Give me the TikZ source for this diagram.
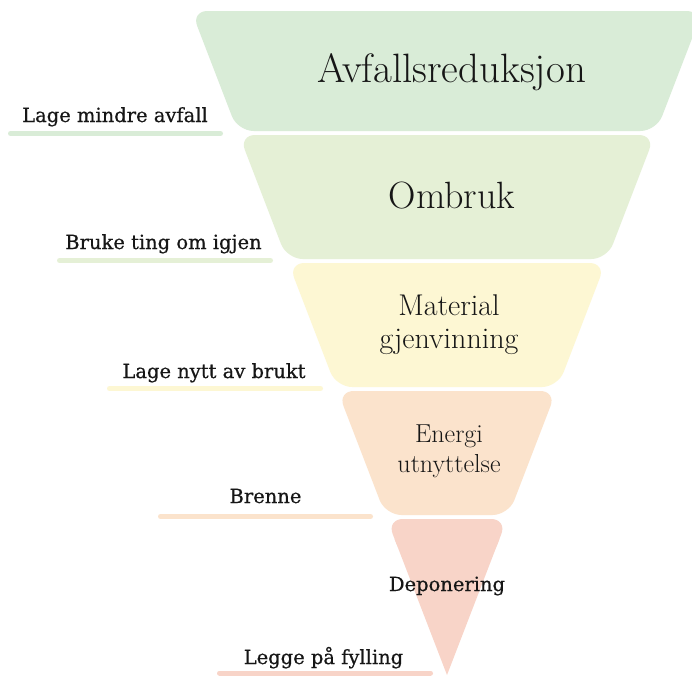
\documentclass[tikz,border=0pt]{standalone}
\usepackage{fontspec}
\newfontfamily\lblfont[FakeBold=0.6]{DejaVu Serif}
\definecolor{bandA}{HTML}{D9ECD7}
\definecolor{bandB}{HTML}{E5F0D6}
\definecolor{bandC}{HTML}{FDF7D3}
\definecolor{bandD}{HTML}{FBE3CC}
\definecolor{bandE}{HTML}{F8D4C8}
\definecolor{ink}{HTML}{161616}
\begin{document}
\begin{tikzpicture}[x=1pt,y=-1pt,
  band/.style={rounded corners=16pt},
  bar/.style={line width=5pt, line cap=round},
  title/.style={inner sep=0pt, anchor=base, text=ink, font=#1},
  sidelabel/.style={inner sep=0pt, anchor=base, text=ink, font=\lblfont\fontsize{19.5}{23}\selectfont}]
\useasboundingbox (0,0) rectangle (692,675);
\clip (0,0) rectangle (692,675);
\fill[white] (0,0) rectangle (692,675);

% funnel bands (slices of one inverted triangle, apex at 447,675)
\fill[bandA, band] (191.4,11) -- (702.6,11) -- (656.4,131) -- (237.6,131) -- cycle;
\fill[bandB, band] (239.1,135) -- (654.9,135) -- (607.2,259) -- (286.8,259) -- cycle;
\fill[bandC, band] (288.4,263) -- (605.6,263) -- (557.9,387) -- (336.1,387) -- cycle;
\fill[bandD, band] (337.7,391) -- (556.3,391) -- (508.6,515) -- (385.4,515) -- cycle;
% bottom tip: rounded top part plus a sharp lower triangle
\fill[bandE, band] (386.9,519) -- (507.1,519) -- (491.7,559) -- (402.3,559) -- cycle;
\fill[bandE] (394.6,539) -- (499.4,539) -- (447,675) -- cycle;

% band titles
\node[title=\fontsize{41}{48}\selectfont] (t1) at (452,82) {Avfallsreduksjon};
\node[title=\fontsize{38}{44}\selectfont] (t2) at (452,208) {Ombruk};
\node[title=\fontsize{30}{34}\selectfont] (t3a) at (449,315) {Material};
\node[title=\fontsize{30}{34}\selectfont] (t3b) at (449,348) {gjenvinning};
\node[title=\fontsize{26}{30}\selectfont] (t4a) at (449,442) {Energi};
\node[title=\fontsize{26}{30}\selectfont] (t4b) at (449,472) {utnyttelse};
\node[sidelabel] (t5) at (447,591) {Deponering};

% side labels with underline bars
\node[sidelabel] (l1) at (115,122) {Lage mindre avfall};
\node[sidelabel] (l2) at (163.5,249) {Bruke ting om igjen};
\node[sidelabel] (l3) at (214,378) {Lage nytt av brukt};
\node[sidelabel] (l4) at (265.5,503) {Brenne};
\node[sidelabel] (l5) at (323.5,664) {Legge på fylling};

\draw[bar, bandA] (10.5,133.5) -- (220.5,133.5);
\draw[bar, bandB] (59.5,260.5) -- (270.5,260.5);
\draw[bar, bandC] (109.5,388.5) -- (320.5,388.5);
\draw[bar, bandD] (160.5,516.5) -- (370.5,516.5);
\draw[bar, bandE] (219.5,673) -- (430.5,673);
\end{tikzpicture}
\end{document}
